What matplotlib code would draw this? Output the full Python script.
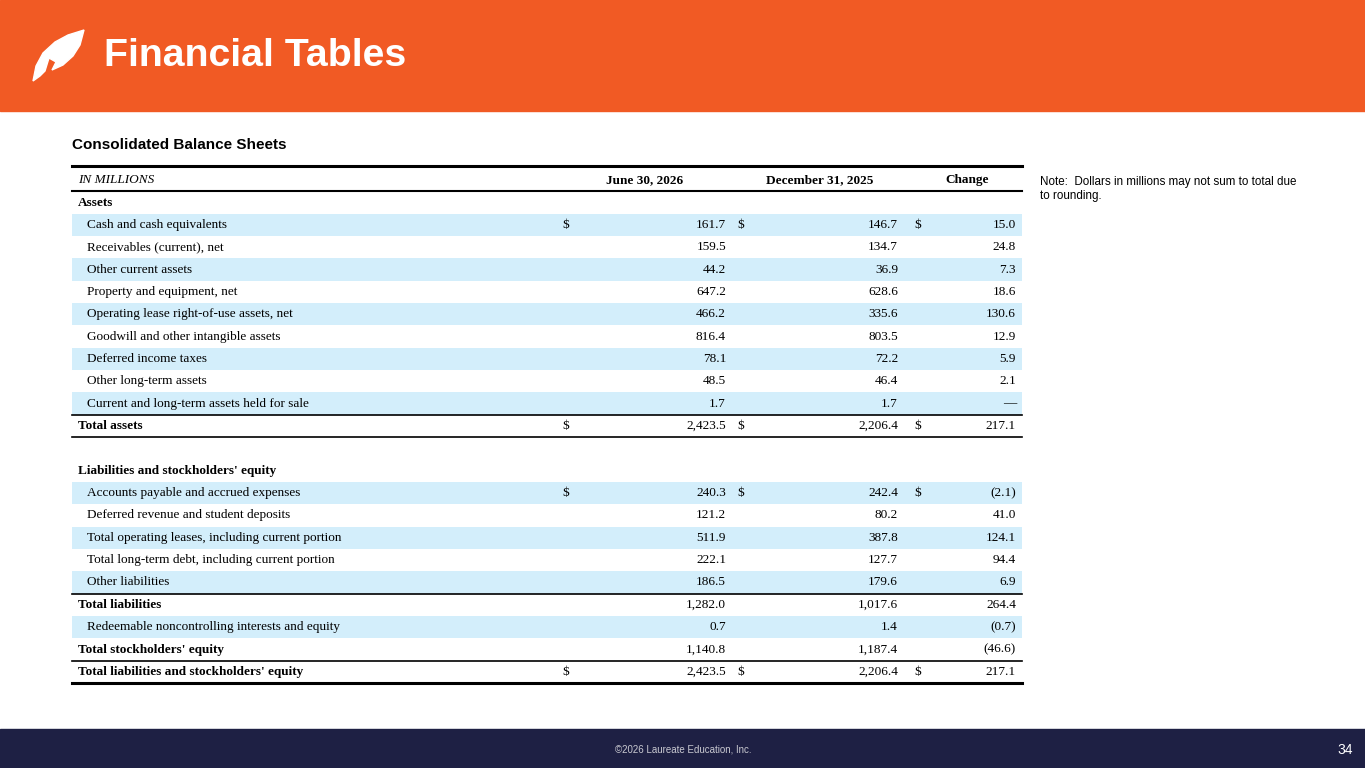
import matplotlib.pyplot as plt
import matplotlib.patches as mpatches

labels = ["Assets", "Cash and cash equivalents", "Receivables (current), net", "Other current assets",
          "Property and equipment, net", "Operating lease right-of-use assets, net",
          "Goodwill and other intangible assets", "Deferred income taxes", "Other long-term assets",
          "Current and long-term assets held for sale", "Total assets", "",
          "Liabilities and stockholders' equity", "Accounts payable and accrued expenses",
          "Deferred revenue and student deposits", "Total operating leases, including current portion",
          "Total long-term debt, including current portion", "Other liabilities", "Total liabilities",
          "Redeemable noncontrolling interests and equity", "Total stockholders' equity",
          "Total liabilities and stockholders' equity"]
jun26 = ["", "161.7", "159.5", "44.2", "647.2", "466.2", "816.4", "78.1", "48.5", "1.7", "2,423.5", "",
         "", "240.3", "121.2", "511.9", "222.1", "186.5", "1,282.0", "0.7", "1,140.8", "2,423.5"]
dec25 = ["", "146.7", "134.7", "36.9", "628.6", "335.6", "803.5", "72.2", "46.4", "1.7", "2,206.4", "",
         "", "242.4", "80.2", "387.8", "127.7", "179.6", "1,017.6", "1.4", "1,187.4", "2,206.4"]
change = ["", "15.0", "24.8", "7.3", "18.6", "130.6", "12.9", "5.9", "2.1", "\u2014", "217.1", "",
          "", "(2.1)", "41.0", "124.1", "94.4", "6.9", "264.4", "(0.7)", "(46.6)", "217.1"]
dollar_rows = [1, 10, 13, 21]
bold_rows = [0, 10, 12, 18, 20, 21]
shaded_rows = [1, 3, 5, 7, 9, 13, 15, 17, 19]

fig = plt.figure(figsize=(13.65, 7.68), dpi=100)
ax = fig.add_axes([0, 0, 1, 1])
ax.set_xlim(0, 1365)
ax.set_ylim(768, 0)
ax.axis('off')

# header and footer bands
ax.add_patch(mpatches.Rectangle((0, 0), 1365, 111, color='#F15A24'))
ax.add_patch(mpatches.Rectangle((0, 729), 1365, 39, color='#1E2044'))
leaf = mpatches.Polygon([(33, 81), (36, 66), (43, 53), (55, 42), (68, 35), (84, 30), (80, 45),
                         (73, 56), (63, 65), (52, 70), (56, 62), (49, 58), (45, 71), (40, 76)],
                        closed=True, color='white')
ax.add_patch(leaf)
ax.text(104, 56, "Financial Tables", fontsize=28.3, fontweight='bold', color='white',
        family='Liberation Sans', va='center', ha='left')
ax.text(683, 750, "\u00a92026 Laureate Education, Inc.", fontsize=7, color='#C8C8D0',
        family='Liberation Sans', ha='center', va='center')
ax.text(1353, 750, "34", fontsize=10, color='white', family='Liberation Sans', ha='right', va='center')

ax.text(72, 145, "Consolidated Balance Sheets", fontsize=11, fontweight='bold',
        family='Liberation Sans', va='center')
ax.text(1040, 176, "Note:  Dollars in millions may not sum to total due\nto rounding.", fontsize=8.4,
        family='Liberation Sans', va='top', linespacing=1.2)

serif = 'Liberation Serif'
fs = 9.5
ax.plot([72, 1022], [166, 166], color='black', lw=2.2)
ax.text(78, 180, "IN MILLIONS", fontsize=fs, style='italic', family=serif, va='center')
ax.text(645, 180, "June 30, 2026", fontsize=fs, fontweight='bold', family=serif, va='center', ha='center')
ax.text(820, 180, "December 31, 2025", fontsize=fs, fontweight='bold', family=serif, va='center', ha='center')
ax.text(967, 180, "Change", fontsize=fs, fontweight='bold', family=serif, va='center', ha='center')
ax.plot([72, 1022], [191, 191], color='black', lw=1.5)

y0, rh = 202.5, 22.35
for i, lab in enumerate(labels):
    y = y0 + i * rh
    if i in shaded_rows:
        ax.add_patch(mpatches.Rectangle((72, y - rh / 2), 950, rh, color='#D3EEFB', lw=0))
    bold = i in bold_rows
    ax.text(78 if bold else 87, y, lab, fontsize=fs, family=serif, va='center',
            fontweight='bold' if bold else 'normal')
    for xr, v in [(726, jun26[i]), (898, dec25[i]), (1016, change[i])]:
        ax.text(xr, y, v, fontsize=fs, family=serif, va='center', ha='right')
    if i in dollar_rows:
        for xd in [566, 741, 918]:
            ax.text(xd, y, "$", fontsize=fs, family=serif, va='center', ha='center')

def line_below(i, lw=1.2):
    y = y0 + i * rh + rh / 2
    ax.plot([72, 1022], [y, y], color='black', lw=lw)

line_below(9)
line_below(10)
line_below(17)
line_below(20)
line_below(21, 2.2)

fig.savefig("out.png", dpi=100, facecolor='white')
